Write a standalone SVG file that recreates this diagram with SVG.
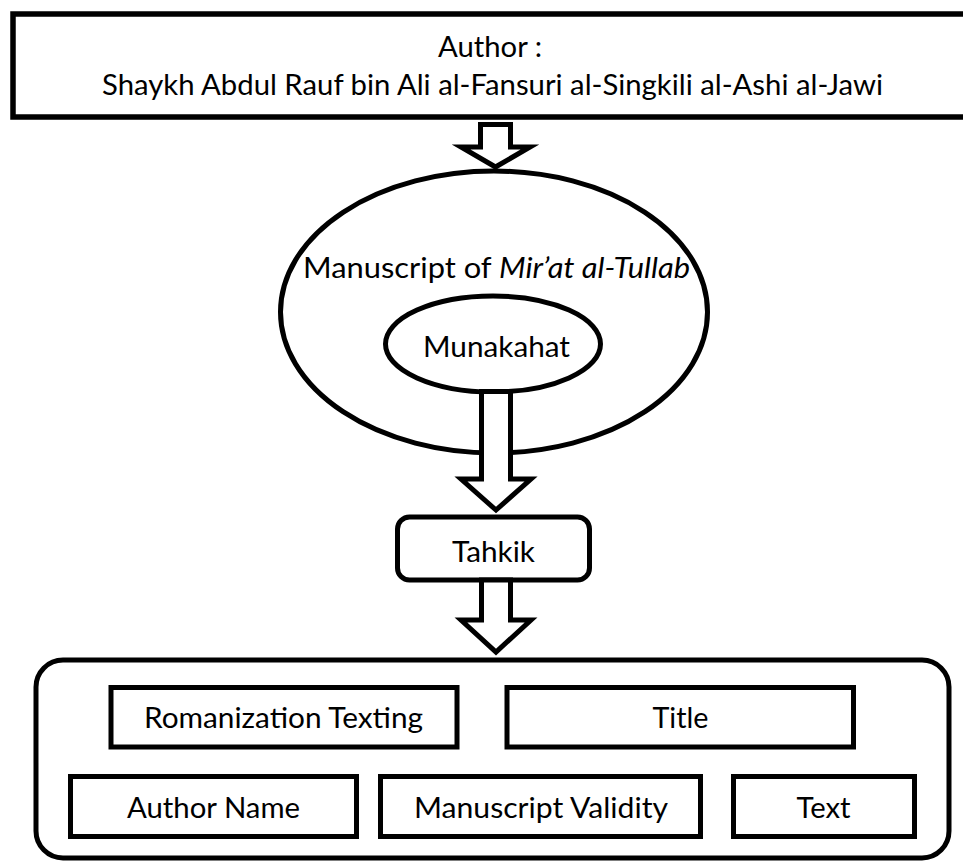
<svg xmlns="http://www.w3.org/2000/svg" width="963" height="861" viewBox="0 0 963 861">
<style>
.s{fill:#fff;stroke:#000;stroke-width:5}
.a{fill:#fff;stroke:#000;stroke-width:5;stroke-linejoin:miter;stroke-miterlimit:10}
text{font-family:Lato,"Open Sans","Liberation Sans",sans-serif;font-size:28px;fill:#000}
.m{text-anchor:middle}
</style>
<rect x="0" y="0" width="963" height="861" fill="#fff"/>
<g id="author">
<rect class="s" x="13" y="14" width="1000" height="103" style="stroke-width:5.5"/>
<text class="m" x="490" y="57" textLength="104" lengthAdjust="spacingAndGlyphs">Author :</text>
<text class="m" x="492.5" y="95" textLength="781" lengthAdjust="spacingAndGlyphs">Shaykh Abdul Rauf bin Ali al-Fansuri al-Singkili al-Ashi al-Jawi</text>
</g>
<g id="manuscript">
<ellipse class="s" cx="494" cy="312" rx="213.5" ry="141"/>
<text x="303" y="278" textLength="387" lengthAdjust="spacingAndGlyphs">Manuscript of <tspan font-style="italic">Mir’at al-Tullab</tspan></text>
</g>
<g id="munakahat">
<ellipse class="s" cx="493" cy="344" rx="107.5" ry="48"/>
<text class="m" x="496.5" y="357" textLength="147" lengthAdjust="spacingAndGlyphs">Munakahat</text>
</g>
<g id="tahkik">
<rect class="s" x="397.5" y="517" width="192" height="63" rx="12"/>
<text class="m" x="493.5" y="562" textLength="83" lengthAdjust="spacingAndGlyphs">Tahkik</text>
</g>
<g id="results">
<rect class="s" x="36" y="660" width="913" height="198" rx="27"/>
</g>
<g id="romanization">
<rect class="s" x="111" y="687.5" width="346" height="59.5"/>
<text class="m" x="283.5" y="728" textLength="279" lengthAdjust="spacingAndGlyphs">Romanization Texting</text>
</g>
<g id="title">
<rect class="s" x="507" y="687.5" width="346.5" height="59.5"/>
<text class="m" x="680.5" y="728" textLength="56" lengthAdjust="spacingAndGlyphs">Title</text>
</g>
<g id="authorname">
<rect class="s" x="70.5" y="776.5" width="286" height="60"/>
<text class="m" x="213.5" y="818" textLength="173" lengthAdjust="spacingAndGlyphs">Author Name</text>
</g>
<g id="validity">
<rect class="s" x="380.5" y="776.5" width="320" height="60"/>
<text class="m" x="541" y="818" textLength="254" lengthAdjust="spacingAndGlyphs">Manuscript Validity</text>
</g>
<g id="text">
<rect class="s" x="733.5" y="776.5" width="181" height="60"/>
<text class="m" x="823.5" y="818" textLength="54" lengthAdjust="spacingAndGlyphs">Text</text>
</g>
<g id="connectors">
<path class="a" d="M480.5,124.5 V147 H461 L495.5,167 L530,147 H510.5 V124.5 Z"/>
<path class="a" d="M481.5,391.5 V479 H461 L496,510 L531,479 H510.5 V391.5 Z"/>
<path class="a" d="M481.5,580 V620 H461 L496,652 L531,620 H510.5 V580 Z"/>
</g>
</svg>
